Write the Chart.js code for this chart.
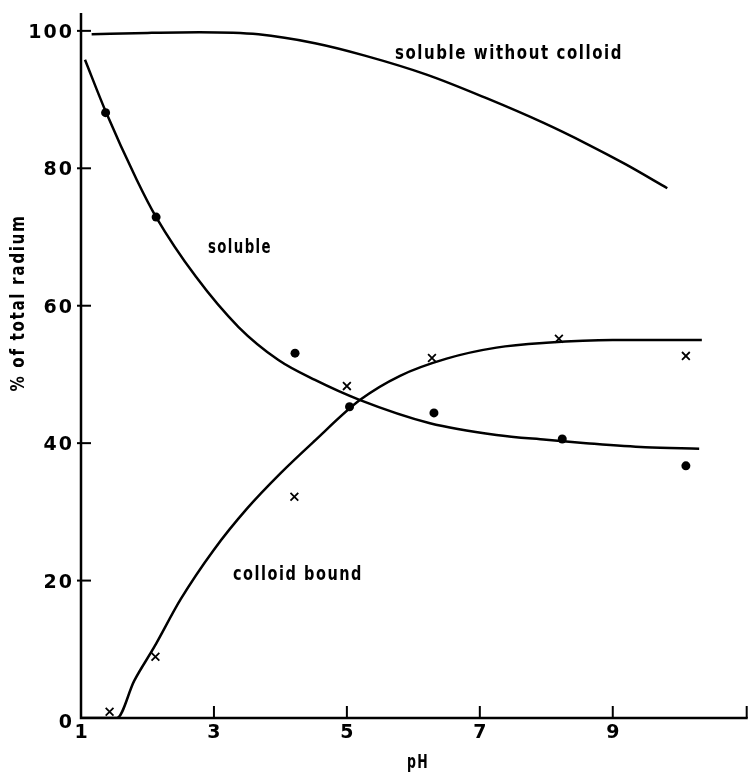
<!DOCTYPE html>
<html>
<head>
<meta charset="utf-8">
<script src="https://cdn.jsdelivr.net/npm/chart.js@4/dist/chart.umd.min.js"></script>
<style>
  html, body { margin: 0; padding: 0; background: #fff; }
</style>
</head>
<body>
<canvas id="radiumChart" width="755" height="776"></canvas>
<script>
// values (pH vs % of total radium)
const xTickValues = [1, 3, 5, 7, 9]
const yTickValues = [0, 20, 40, 60, 80, 100]

// smooth hand-drawn curves
const noColloidPH = [1.16, 2.0, 2.78, 3.67, 4.52, 5.27, 6.21, 7.10, 7.96, 8.60, 9.19, 9.82]
const noColloidPct = [99.5, 99.7, 99.8, 99.5, 98.2, 96.4, 93.6, 90.2, 86.6, 83.6, 80.6, 77.1]

const solubleCurvePH = [1.06, 1.37, 1.84, 2.13, 2.73, 3.37, 3.97, 4.52, 5.19, 6.25, 7.25, 8.0, 8.6, 9.49, 10.3]
const solubleCurvePct = [95.8, 88.3, 78.3, 72.9, 64.2, 56.9, 52.1, 49.2, 46.3, 42.9, 41.2, 40.5, 40.0, 39.4, 39.2]

const colloidCurvePH = [1.0, 1.54, 1.8, 2.1, 2.5, 3.0, 3.5, 4.0, 4.5, 5.2, 5.8, 6.5, 7.25, 8.0, 9.0, 10.34]
const colloidCurvePct = [0, 0, 5.4, 10.3, 17.3, 24.5, 30.5, 35.6, 40.2, 46.3, 49.8, 52.3, 53.9, 54.6, 55.0, 55.0]

// measured points
const solublePointPH = [1.37, 2.13, 4.22, 5.04, 6.31, 8.24, 10.1]
const solublePointPct = [88.1, 72.9, 53.1, 45.3, 44.4, 40.6, 36.7]

const colloidPointPH = [1.43, 2.12, 4.21, 5.0, 6.28, 8.19, 10.1]
const colloidPointPct = [0.9, 8.9, 32.2, 48.3, 52.4, 55.2, 52.7]

const toXY = (xs, ys) => xs.map((x, i) => ({ x, y: ys[i] }))

const INK = '#000'

// squeeze spaced lettering into the width it takes in the figure
function drawLettering(ctx, text, cx, baseY, width, font, angle) {
  ctx.save()
  ctx.font = font
  ctx.letterSpacing = '2px'
  const w = ctx.measureText(text).width
  ctx.translate(cx, baseY)
  ctx.rotate(angle || 0)
  ctx.scale(width / w, 1)
  ctx.textAlign = 'center'
  ctx.textBaseline = 'alphabetic'
  ctx.fillStyle = INK
  ctx.fillText(text, 0, 0)
  ctx.restore()
}

const paperAxes = {
  id: 'paperAxes',
  beforeDatasetsDraw(chart) {
    const { ctx, chartArea: area, scales: { x, y } } = chart
    ctx.save()
    ctx.strokeStyle = INK
    ctx.lineWidth = 2.5

    // axis lines
    ctx.beginPath()
    ctx.moveTo(area.left, area.top)
    ctx.lineTo(area.left, area.bottom)
    ctx.lineTo(area.right, area.bottom)
    ctx.stroke()

    // inward ticks
    ctx.lineWidth = 2
    yTickValues.filter((v) => v > 0).forEach((v) => {
      const py = y.getPixelForValue(v)
      ctx.beginPath()
      ctx.moveTo(area.left - 4, py)
      ctx.lineTo(area.left + 10, py)
      ctx.stroke()
    })
    xTickValues.filter((v) => v > 1).concat([x.max]).forEach((v) => {
      const px = Math.min(x.getPixelForValue(v), area.right - 1)
      ctx.beginPath()
      ctx.moveTo(px, area.bottom)
      ctx.lineTo(px, area.bottom - 12)
      ctx.stroke()
    })

    // tick labels
    ctx.fillStyle = INK
    ctx.font = 'bold 19px "DejaVu Sans"'
    ctx.letterSpacing = '2px'
    ctx.textBaseline = 'alphabetic'
    ctx.textAlign = 'right'
    yTickValues.forEach((v) => {
      const py = y.getPixelForValue(v)
      ctx.fillText(String(v), area.left - 7, py + (v === 0 ? 10 : 7))
    })
    ctx.textAlign = 'center'
    xTickValues.forEach((v) => {
      ctx.fillText(String(v), x.getPixelForValue(v) + 1, area.bottom + 20)
    })
    ctx.restore()

    // axis titles and curve labels
    const labelFont = 'bold 19px "DejaVu Sans"'
    drawLettering(ctx, '% of total radium', 24, 303, 177, labelFont, -Math.PI / 2)
    drawLettering(ctx, 'pH', 418, 768, 22, labelFont)
    drawLettering(ctx, 'soluble without colloid', 509, 59, 228, labelFont)
    drawLettering(ctx, 'soluble', 240, 253, 64, labelFont)
    drawLettering(ctx, 'colloid bound', 298, 580, 130, labelFont)
  }
}

const curve = (data) => ({
  type: 'line',
  data,
  borderColor: INK,
  borderWidth: 2.5,
  pointRadius: 0,
  showLine: true,
  cubicInterpolationMode: 'monotone',
  fill: false
})

new Chart(document.getElementById('radiumChart'), {
  type: 'scatter',
  data: {
    datasets: [
      curve(toXY(noColloidPH, noColloidPct)),
      curve(toXY(solubleCurvePH, solubleCurvePct)),
      curve(toXY(colloidCurvePH, colloidCurvePct)),
      {
        data: toXY(solublePointPH, solublePointPct),
        pointStyle: 'circle',
        pointRadius: 4.5,
        backgroundColor: INK,
        borderColor: INK,
        borderWidth: 0
      },
      {
        data: toXY(colloidPointPH, colloidPointPct),
        pointStyle: 'crossRot',
        pointRadius: 5.5,
        borderColor: INK,
        borderWidth: 1.8
      }
    ]
  },
  options: {
    responsive: false,
    animation: false,
    devicePixelRatio: 1,
    layout: { padding: { left: 81, top: 13, right: 2, bottom: 58 } },
    plugins: { legend: { display: false }, tooltip: { enabled: false } },
    scales: {
      x: { type: 'linear', min: 1, max: 11.03, display: false },
      y: { type: 'linear', min: 0, max: 102.6, display: false }
    }
  },
  plugins: [paperAxes]
})
</script>
</body>
</html>
